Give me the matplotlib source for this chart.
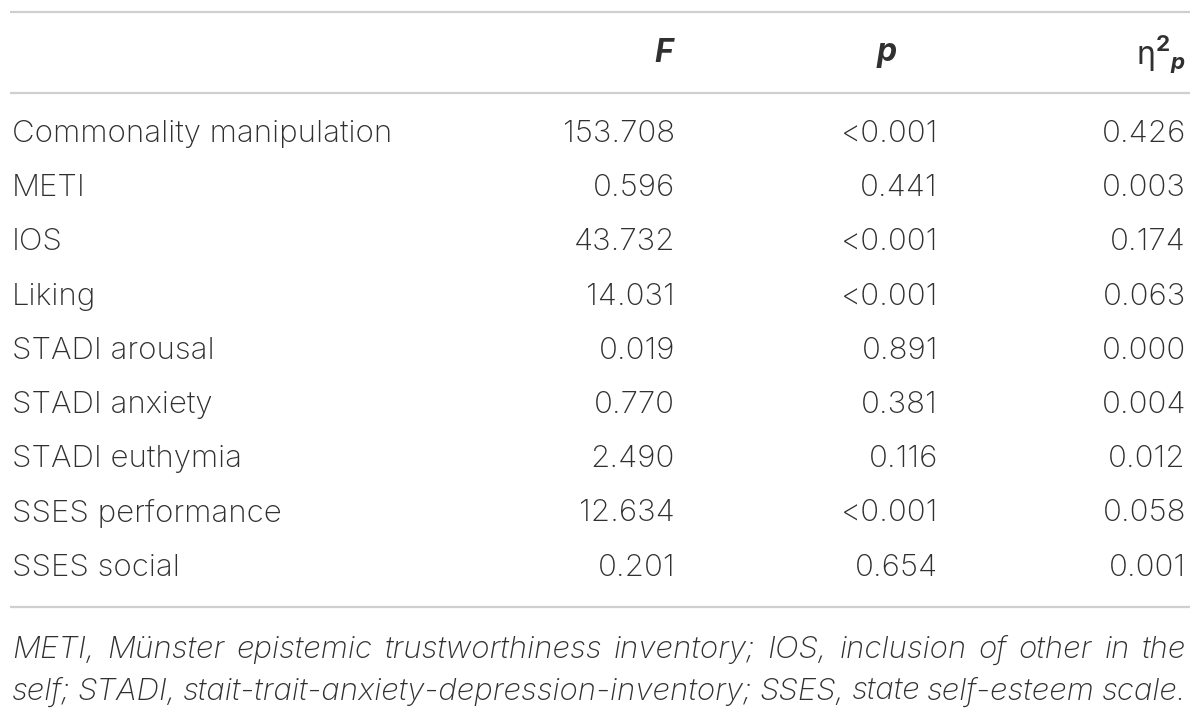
import matplotlib.pyplot as plt

# table contents
row_labels = ['Commonality manipulation', 'METI', 'IOS', 'Liking', 'STADI arousal',
              'STADI anxiety', 'STADI euthymia', 'SSES performance', 'SSES social']
f_vals = ['153.708', '0.596', '43.732', '14.031', '0.019', '0.770', '2.490', '12.634', '0.201']
p_vals = ['<0.001', '0.441', '<0.001', '<0.001', '0.891', '0.381', '0.116', '<0.001', '0.654']
eta_vals = ['0.426', '0.003', '0.174', '0.063', '0.000', '0.004', '0.012', '0.058', '0.001']
headers = ['$\\boldsymbol{F}$', '$\\boldsymbol{p}$', '$\\mathregular{\u03b7}^{\\mathbf{2}}{}_{\\boldsymbol{p}}$']
footnote = ['METI, M\u00fcnster epistemic trustworthiness inventory; IOS, inclusion of other in the',
            'self; STADI, stait-trait-anxiety-depression-inventory; SSES, state self-esteem scale.']

fam = 'Inter'
plt.rcParams['font.family'] = [fam, 'DejaVu Sans']
plt.rcParams['mathtext.fontset'] = 'custom'
plt.rcParams['mathtext.rm'] = fam
plt.rcParams['mathtext.it'] = fam + ':italic'
plt.rcParams['mathtext.bf'] = fam + ':bold'
plt.rcParams['mathtext.bfit'] = fam + ':bold:italic'

fig = plt.figure(figsize=(12, 7.12), dpi=100)
ax = fig.add_axes([0, 0, 1, 1])
ax.set_xlim(0, 1200)
ax.set_ylim(712, 0)
ax.axis('off')

txt = '#303030'
line_c = '#cfcfcf'
fs = 22.5

for y in (12, 93, 607):
    ax.plot([10, 1190], [y, y], color=line_c, lw=1.6, solid_capstyle='butt')

col_x = [675, 938, 1186]
head_x = [676, 898, 1186]
for hx, h in zip(head_x, headers):
    ax.text(hx, 54, h, ha='right', va='center', fontsize=fs + 0.5, color=txt)

y0, dy = 134, 54.2
for i, lab in enumerate(row_labels):
    y = y0 + i * dy
    ax.text(12, y, lab, ha='left', va='center', fontsize=fs, color=txt, fontweight='light')
    for cx, v in zip(col_x, (f_vals[i], p_vals[i], eta_vals[i])):
        ax.text(cx, y, v, ha='right', va='center', fontsize=fs, color=txt, fontweight='light')

# justified footnote: place words one by one
fig.canvas.draw()
renderer = fig.canvas.get_renderer()
left, right = 12, 1186
for j, line in enumerate(footnote):
    y = 650 + j * 42
    words = line.split(' ')
    items = [ax.text(0, y, w, ha='left', va='center', fontsize=fs,
                     style='italic', color=txt, fontweight='light') for w in words]
    widths = [t.get_window_extent(renderer).width for t in items]
    gap = (right - left - sum(widths)) / (len(words) - 1)
    x = left
    for t, w in zip(items, widths):
        t.set_x(x)
        x += w + gap

fig.savefig('out.png', dpi=100)
